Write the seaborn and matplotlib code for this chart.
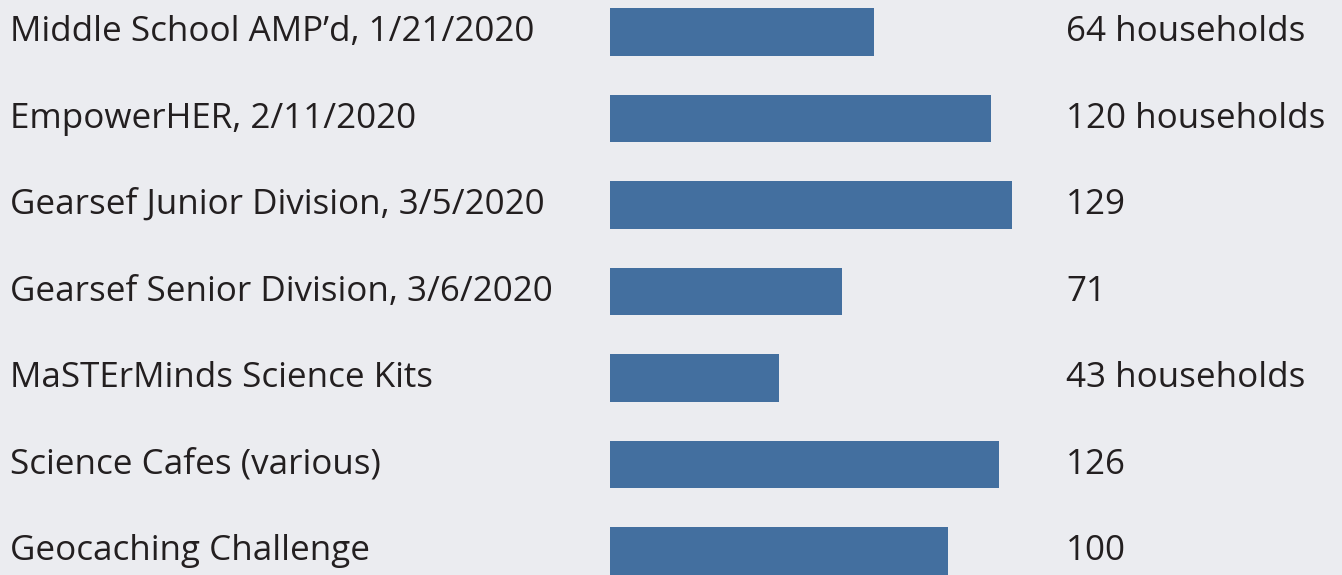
import numpy as np
import pandas as pd
import matplotlib.pyplot as plt
import seaborn as sns

## Data
events = ["Middle School AMP\u2019d, 1/21/2020", "EmpowerHER, 2/11/2020",
          "Gearsef Junior Division, 3/5/2020", "Gearsef Senior Division, 3/6/2020",
          "MaSTErMinds Science Kits", "Science Cafes (various)", "Geocaching Challenge"]
bar_values = [84.7, 122.3, 129, 74.5, 54.2, 124.8, 108.5]
value_labels = ["64 households", "120 households", "129", "71",
                "43 households", "126", "100"]

df = pd.DataFrame({"event": events, "value": bar_values})

sns.set_theme(style="white")
plt.rcParams["font.family"] = ["Open Sans", "DejaVu Sans"]

bg = "#ebecf0"
fig = plt.figure(figsize=(13.42, 5.75), dpi=100, facecolor=bg)
ax = fig.add_axes([0, 0, 1, 1])
ax.set_facecolor(bg)

# bars
sns.barplot(data=df, y="event", x="value", orient="h", color="#436f9f",
            saturation=1, width=0.551, linewidth=0, ax=ax)

# pixel mapping: bar start at 610px, 3.116 px per unit, 86.5 px per row
s = 3.116
row = 86.5
ax.set_xlim(-610 / s, (1342 - 610) / s)
ax.set_ylim((575 - 32) / row, -32 / row)

for i, (ev, lab) in enumerate(zip(events, value_labels)):
    ax.text(10 / 1342, i, ev, transform=ax.get_yaxis_transform(), ha="left",
            va="center", fontsize=25.2, color="#231f20")
    ax.text(1066 / 1342, i, lab, transform=ax.get_yaxis_transform(), ha="left",
            va="center", fontsize=25.2, color="#231f20")

ax.set_axis_off()
plt.savefig("out.png", dpi=100, facecolor=bg)
